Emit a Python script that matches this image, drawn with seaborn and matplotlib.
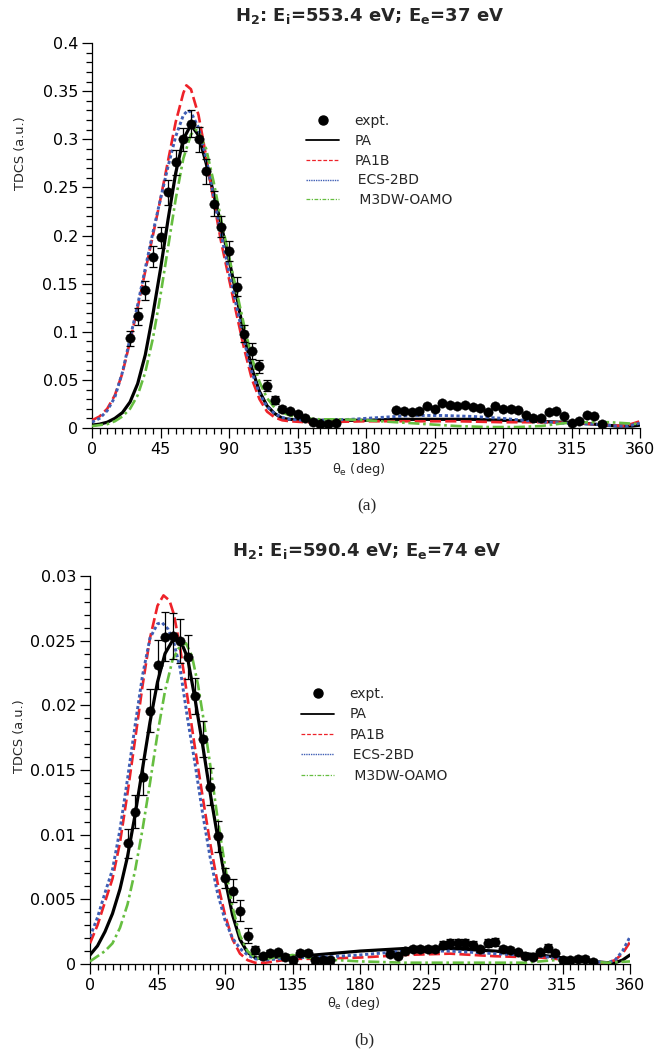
import numpy as np
import pandas as pd
import matplotlib
matplotlib.use("Agg")
import matplotlib.pyplot as plt
from matplotlib.lines import Line2D
from matplotlib.ticker import MultipleLocator, FuncFormatter
import seaborn as sns

# ---------------- Panel (a): Ei=553.4 eV, Ee=37 eV ----------------
a_expt_deg = [25, 30, 35, 40, 45, 50, 55, 60, 65, 70, 75, 80, 85, 90, 95, 100, 105, 110, 115, 120,
              125, 130, 135, 140, 145, 150, 155, 160,
              200, 205, 210, 215, 220, 225, 230, 235, 240, 245, 250, 255, 260, 265, 270, 275, 280,
              285, 290, 295, 300, 305, 310, 315, 320, 325, 330, 335]
a_expt_val = [0.093, 0.116, 0.143, 0.178, 0.198, 0.245, 0.276, 0.300, 0.316, 0.300, 0.267, 0.233, 0.209,
              0.184, 0.147, 0.098, 0.080, 0.064, 0.044, 0.029,
              0.020, 0.018, 0.0145, 0.010, 0.0065, 0.004, 0.004, 0.005,
              0.019, 0.018, 0.017, 0.018, 0.023, 0.020, 0.026, 0.024, 0.023, 0.024, 0.022, 0.021, 0.017,
              0.023, 0.020, 0.020, 0.019, 0.013, 0.010, 0.010, 0.017, 0.018, 0.012, 0.0055, 0.0073,
              0.014, 0.012, 0.004]
a_expt_err = [0.0075, 0.0087, 0.010, 0.011, 0.011, 0.013, 0.013, 0.012, 0.014, 0.013, 0.013, 0.013, 0.011,
              0.010, 0.010, 0.009, 0.008, 0.007, 0.006, 0.004,
              0.003, 0.002, 0.002, 0.002, 0.002, 0.002, 0.002, 0.002,
              0.002, 0.002, 0.002, 0.002, 0.002, 0.002, 0.002, 0.002, 0.002, 0.002, 0.002, 0.002, 0.002,
              0.002, 0.002, 0.002, 0.002, 0.002, 0.002, 0.002, 0.002, 0.002, 0.002, 0.002, 0.002,
              0.002, 0.002, 0.002]

a_pa_deg = [0, 5, 10, 15, 20, 25, 30, 35, 40, 45, 50, 55, 60, 65, 70, 75, 80, 85, 90, 95, 100, 105, 110,
            115, 120, 125, 130, 140, 150, 165, 180, 200, 225, 250, 270, 290, 310, 330, 345, 355, 360]
a_pa_val = [0.003, 0.004, 0.006, 0.010, 0.016, 0.027, 0.046, 0.076, 0.118, 0.165, 0.217, 0.265, 0.300,
            0.315, 0.304, 0.275, 0.243, 0.210, 0.175, 0.137, 0.096, 0.062, 0.038, 0.023, 0.015, 0.010,
            0.009, 0.008, 0.008, 0.008, 0.008, 0.009, 0.009, 0.009, 0.008, 0.007, 0.006, 0.004, 0.002,
            0.002, 0.003]

a_pa1b_deg = [0, 5, 10, 15, 20, 25, 30, 35, 40, 45, 50, 55, 60, 62, 65, 70, 75, 80, 85, 90, 95, 100, 105,
              110, 115, 120, 125, 130, 140, 150, 180, 210, 240, 270, 300, 320, 340, 350, 360]
a_pa1b_val = [0.008, 0.012, 0.020, 0.034, 0.057, 0.090, 0.125, 0.163, 0.200, 0.238, 0.278, 0.318, 0.348,
              0.356, 0.352, 0.325, 0.282, 0.235, 0.192, 0.155, 0.118, 0.082, 0.051, 0.030, 0.017, 0.011,
              0.008, 0.007, 0.006, 0.006, 0.007, 0.007, 0.007, 0.006, 0.006, 0.005, 0.003, 0.002, 0.007]

a_ecs_deg = [0, 5, 10, 15, 20, 25, 30, 35, 40, 45, 50, 55, 60, 63, 65, 70, 75, 80, 85, 90, 95, 100, 105,
             110, 115, 120, 125, 130, 140, 150, 170, 190, 210, 230, 250, 270, 290, 310, 330, 345, 352, 360]
a_ecs_val = [0.006, 0.010, 0.018, 0.032, 0.058, 0.093, 0.128, 0.166, 0.203, 0.238, 0.272, 0.303, 0.325,
             0.330, 0.328, 0.312, 0.280, 0.240, 0.200, 0.162, 0.126, 0.090, 0.058, 0.036, 0.022, 0.015,
             0.011, 0.009, 0.008, 0.008, 0.009, 0.011, 0.013, 0.013, 0.012, 0.010, 0.007, 0.005, 0.004,
             0.002, 0.002, 0.005]

a_m3dw_deg = [0, 5, 10, 15, 20, 25, 30, 35, 40, 45, 50, 55, 60, 65, 68, 70, 75, 80, 85, 90, 95, 100, 105,
              110, 115, 120, 125, 130, 140, 150, 165, 180, 200, 220, 240, 260, 280, 295, 310, 325, 340,
              350, 360]
a_m3dw_val = [0.002, 0.003, 0.004, 0.007, 0.012, 0.020, 0.034, 0.058, 0.093, 0.138, 0.188, 0.238, 0.280,
              0.305, 0.310, 0.308, 0.290, 0.255, 0.215, 0.178, 0.142, 0.106, 0.073, 0.048, 0.031, 0.021,
              0.016, 0.013, 0.010, 0.009, 0.009, 0.008, 0.006, 0.004, 0.002, 0.001, 0.001, 0.002, 0.005,
              0.006, 0.006, 0.005, 0.004]

# ---------------- Panel (b): Ei=590.4 eV, Ee=74 eV ----------------
b_expt_deg = [25, 30, 35, 40, 45, 50, 55, 60, 65, 70, 75, 80, 85, 90, 95, 100, 105, 110, 115, 120, 125,
              130, 135, 140, 145, 150, 155, 160,
              200, 205, 210, 215, 220, 225, 230, 235, 240, 245, 250, 255, 260, 265, 270, 275, 280, 285,
              290, 295, 300, 305, 310, 315, 320, 325, 330, 335]
b_expt_val = [0.00932, 0.01178, 0.01444, 0.0196, 0.02314, 0.0253, 0.02537, 0.0250, 0.02374, 0.0207,
              0.0174, 0.01372, 0.00989, 0.00665, 0.00567, 0.00412, 0.0022, 0.00109, 0.00062, 0.00088,
              0.0009, 0.00057, 0.00028, 0.00088, 0.00088, 0.00028, 0.00028, 0.00031,
              0.00078, 0.00065, 0.00104, 0.00116, 0.00116, 0.00116, 0.00116, 0.00148, 0.0016, 0.0016,
              0.0016, 0.00148, 0.00116, 0.00165, 0.0017, 0.00116, 0.00109, 0.0009, 0.00062, 0.00057,
              0.0009, 0.00122, 0.00083, 0.00031, 0.00031, 0.00039, 0.00039, 0.00018]
b_expt_err = [0.0011, 0.0013, 0.0014, 0.0017, 0.0019, 0.0019, 0.0018, 0.0017, 0.0017, 0.0014, 0.0014,
              0.0014, 0.0012, 0.0008, 0.0009, 0.0008, 0.0006, 0.0003, 0.0002, 0.0002, 0.0002,
              0.0002, 0.0002, 0.0002, 0.0002, 0.0002, 0.0002, 0.0002,
              0.0002, 0.0002, 0.0002, 0.0002, 0.0002, 0.0002, 0.0002, 0.0003, 0.0003, 0.0003, 0.0003,
              0.0003, 0.0002, 0.0003, 0.0003, 0.0002, 0.0002, 0.0002, 0.0002, 0.0002, 0.0002, 0.0003,
              0.0002, 0.0002, 0.0002, 0.0002, 0.0002, 0.0002]

b_pa_deg = [0, 5, 10, 15, 20, 25, 30, 35, 40, 45, 50, 55, 60, 65, 70, 75, 80, 85, 90, 95, 100, 105, 110,
            115, 120, 135, 150, 180, 210, 240, 270, 300, 320, 335, 345, 350, 355, 360]
b_pa_val = [0.0007, 0.0014, 0.0025, 0.0039, 0.0058, 0.0083, 0.0115, 0.0151, 0.0187, 0.0218, 0.0240,
            0.0250, 0.0251, 0.0237, 0.0205, 0.0170, 0.0133, 0.0099, 0.0066, 0.0038, 0.0019, 0.0009,
            0.0005, 0.0004, 0.0005, 0.0006, 0.0007, 0.0010, 0.0012, 0.0012, 0.0010, 0.0007, 0.0004,
            0.0002, 0.0001, 0.0001, 0.0003, 0.0007]

b_pa1b_deg = [0, 5, 10, 15, 20, 25, 30, 35, 40, 45, 49, 53, 56, 60, 65, 70, 75, 80, 85, 90, 95, 100, 105,
              110, 117, 135, 150, 180, 210, 240, 270, 300, 330, 340, 345, 350, 355, 360]
b_pa1b_val = [0.0016, 0.0030, 0.0048, 0.0066, 0.0094, 0.0132, 0.0173, 0.0215, 0.0252, 0.0277, 0.0285,
              0.0281, 0.0270, 0.0245, 0.0206, 0.0167, 0.0130, 0.0094, 0.0063, 0.0038, 0.0019, 0.0008,
              0.0003, 0.0001, 0.0001, 0.0004, 0.0004, 0.0005, 0.0007, 0.0008, 0.0006, 0.0005, 0.0002,
              0.0001, 0.0001, 0.0003, 0.0008, 0.0017]

b_ecs_deg = [0, 5, 10, 15, 20, 25, 30, 35, 40, 45, 48, 52, 56, 60, 65, 70, 75, 80, 85, 90, 95, 100, 105,
             110, 117, 135, 150, 180, 210, 240, 270, 300, 330, 345, 350, 355, 360]
b_ecs_val = [0.0021, 0.0036, 0.0055, 0.0073, 0.0104, 0.0143, 0.0184, 0.0223, 0.0252, 0.0263, 0.0264,
             0.0259, 0.0248, 0.0229, 0.0190, 0.0155, 0.0117, 0.0083, 0.0055, 0.0034, 0.0020, 0.0012,
             0.0007, 0.0004, 0.0003, 0.0005, 0.0005, 0.0007, 0.0010, 0.0010, 0.0008, 0.0006, 0.0002,
             0.0001, 0.0003, 0.0010, 0.0021]

b_m3dw_deg = [0, 5, 10, 15, 20, 25, 30, 35, 40, 45, 50, 55, 60, 64, 68, 72, 76, 80, 85, 90, 95, 100, 105,
              110, 115, 125, 135, 150, 165, 180, 210, 240, 270, 290, 310, 330, 345, 360]
b_m3dw_val = [0.0002, 0.0006, 0.0010, 0.0016, 0.0028, 0.0046, 0.0072, 0.0104, 0.0140, 0.0178, 0.0211,
              0.0235, 0.0246, 0.0248, 0.0238, 0.0216, 0.0187, 0.0155, 0.0113, 0.0076, 0.0044, 0.0022,
              0.0010, 0.0005, 0.0004, 0.0005, 0.0007, 0.0004, 0.0003, 0.0002, 0.0001, 0.0001, 0.0001,
              0.0001, 0.0003, 0.0002, 0.0001, 0.0002]

x_ticks = [0, 45, 90, 135, 180, 225, 270, 315, 360]
legend_labels = ["expt.", "PA", "PA1B", "\u2009ECS-2BD", " M3DW-OAMO"]

# ---------------- style ----------------
sns.set_style("ticks")
FONT = ["DejaVu Sans"]
plt.rcParams["font.family"] = FONT
plt.rcParams["mathtext.fontset"] = "dejavusans"

C_PA = "black"
C_PA1B = "#EE2229"
C_ECS = "#3F5EB5"
C_M3DW = "#66BE40"

LS_PA1B = (0, (4.2, 1.6))
LS_ECS = (0, (1.1, 0.9))
LS_M3DW = (0, (4.2, 1.4, 1.0, 1.4))

W, H = 656, 1053
fig = plt.figure(figsize=(W / 100, H / 100), dpi=100)
ax1 = fig.add_axes([92 / W, 1 - 428 / H, 548 / W, 385 / H])
ax2 = fig.add_axes([90 / W, 1 - 964 / H, 540 / W, 388 / H])


def draw(ax, expt, curves, ymax, ymaj, ymin):
    for (d, v, col, ls, lw) in curves:
        df = pd.DataFrame({"deg": d, "tdcs": v})
        sns.lineplot(data=df, x="deg", y="tdcs", ax=ax, color=col, linestyle=ls, linewidth=lw,
                     legend=False, zorder=3)
    d, v, e = expt
    ax.errorbar(d, v, yerr=e, fmt="none", ecolor="black", elinewidth=0.9, capsize=2.6,
                capthick=0.9, zorder=4)
    dfe = pd.DataFrame({"deg": d, "tdcs": v})
    sns.scatterplot(data=dfe, x="deg", y="tdcs", ax=ax, color="black", s=46, edgecolor="black",
                    linewidth=0.3, zorder=5, legend=False)
    ax.set_xlim(0, 360)
    ax.set_ylim(0, ymax)
    ax.set_xticks(x_ticks)
    ax.xaxis.set_minor_locator(MultipleLocator(5))
    ax.yaxis.set_major_locator(MultipleLocator(ymaj))
    ax.yaxis.set_minor_locator(MultipleLocator(ymin))
    ax.yaxis.set_major_formatter(FuncFormatter(lambda val, pos: "%g" % round(val, 6)))
    ax.tick_params(which="major", direction="out", length=7, width=0.9, labelsize=11.5, pad=3,
                   color="black", labelcolor="black")
    ax.tick_params(which="minor", direction="out", length=4.3, width=0.9, color="black")
    sns.despine(ax=ax)
    for s in ("left", "bottom"):
        ax.spines[s].set_linewidth(0.9)
        ax.spines[s].set_color("black")
    ax.set_xlabel(r"θ$_\mathregular{e}$ (deg)", fontsize=9.3)
    ax.set_ylabel("TDCS (a.u.)", fontsize=9.3)


draw(ax1, (a_expt_deg, a_expt_val, a_expt_err),
     [(a_pa_deg, a_pa_val, C_PA, "-", 2.3),
      (a_pa1b_deg, a_pa1b_val, C_PA1B, LS_PA1B, 1.9),
      (a_ecs_deg, a_ecs_val, C_ECS, LS_ECS, 2.1),
      (a_m3dw_deg, a_m3dw_val, C_M3DW, LS_M3DW, 1.9)],
     0.4, 0.05, 0.01)
draw(ax2, (b_expt_deg, b_expt_val, b_expt_err),
     [(b_pa_deg, b_pa_val, C_PA, "-", 2.3),
      (b_pa1b_deg, b_pa1b_val, C_PA1B, LS_PA1B, 1.9),
      (b_ecs_deg, b_ecs_val, C_ECS, LS_ECS, 2.1),
      (b_m3dw_deg, b_m3dw_val, C_M3DW, LS_M3DW, 1.9)],
     0.03, 0.005, 0.001)

# label positions
ax1.yaxis.set_label_coords((20 - 92) / 548, (428 - 153) / 385)
ax1.xaxis.set_label_coords((359 - 92) / 548, -(470 - 428) / 385)
ax2.yaxis.set_label_coords((20 - 90) / 540, (964 - 736) / 388)
ax2.xaxis.set_label_coords((354 - 90) / 540, -(1004 - 964) / 388)
for ax in (ax1, ax2):
    ax.xaxis.label.set_verticalalignment("center")
    ax.yaxis.label.set_verticalalignment("center")

# titles
fig.text(370 / W, 1 - 16 / H, r"H$_\mathbf{2}$: E$_\mathbf{i}$=553.4 eV; E$_\mathbf{e}$=37 eV",
         ha="center", va="center", fontsize=13, fontweight="bold", family="DejaVu Sans")
fig.text(367 / W, 1 - 551 / H, r"H$_\mathbf{2}$: E$_\mathbf{i}$=590.4 eV; E$_\mathbf{e}$=74 eV",
         ha="center", va="center", fontsize=13, fontweight="bold", family="DejaVu Sans")

# panel captions
fig.text(367 / W, 1 - 506 / H, "(a)", ha="center", va="center", fontsize=12.5,
         family=["Liberation Serif", "DejaVu Serif"])
fig.text(364 / W, 1 - 1040 / H, "(b)", ha="center", va="center", fontsize=12.5,
         family=["Liberation Serif", "DejaVu Serif"])

# legends
def handles():
    return [Line2D([], [], color="black", marker="o", linestyle="none", markersize=6.5),
            Line2D([], [], color=C_PA, linestyle="-", linewidth=1.3),
            Line2D([], [], color=C_PA1B, linestyle=(0, (3, 1.5)), linewidth=0.9),
            Line2D([], [], color=C_ECS, linestyle=(0, (1, 0.7)), linewidth=1.0),
            Line2D([], [], color=C_M3DW, linestyle=(0, (3, 1.2, 1, 1.2)), linewidth=0.9)]


for ax, (lx, ly, sp) in ((ax1, (306, 114, 0.42)), (ax2, (301, 687, 0.46))):
    ax.legend(handles(), legend_labels, loc="upper left", bbox_to_anchor=(lx / W, 1 - ly / H),
              bbox_transform=fig.transFigure, frameon=False, fontsize=10, borderpad=0,
              borderaxespad=0, handlelength=2.4, handletextpad=1.1, labelspacing=sp)

fig.savefig("out.png", dpi=100)
